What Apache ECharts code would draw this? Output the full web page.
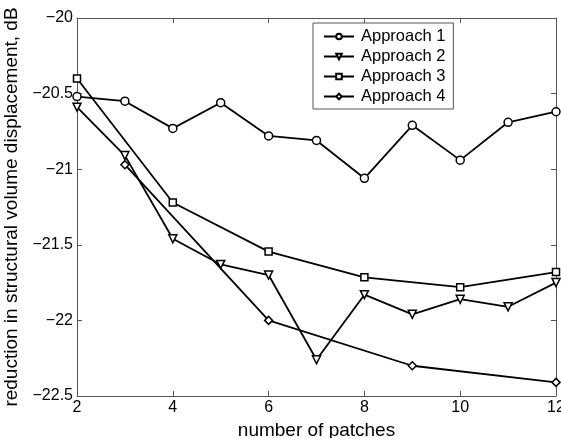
<!DOCTYPE html>
<html>
<head>
<meta charset="utf-8">
<script src="https://cdn.jsdelivr.net/npm/echarts@6/dist/echarts.min.js"></script>
<style>html,body{margin:0;padding:0;background:#fff}#c{width:561px;height:438px}</style>
</head>
<body>
<div id="c"></div>
<script>
var approach1X = [2, 3, 4, 5, 6, 7, 8, 9, 10, 11, 12];
var approach1Y = [-20.52, -20.55, -20.73, -20.56, -20.78, -20.81, -21.06, -20.71, -20.94, -20.69, -20.62];
var approach2X = [2, 3, 4, 5, 6, 7, 8, 9, 10, 11, 12];
var approach2Y = [-20.59, -20.91, -21.46, -21.63, -21.70, -22.26, -21.83, -21.96, -21.86, -21.91, -21.75];
var approach3X = [2, 4, 6, 8, 10, 12];
var approach3Y = [-20.40, -21.22, -21.545, -21.715, -21.78, -21.68];
var approach4X = [3, 6, 9, 12];
var approach4Y = [-20.97, -22.00, -22.30, -22.41];
var seriesNames = ['Approach 1', 'Approach 2', 'Approach 3', 'Approach 4'];
var xTitle = 'number of patches';
var yTitle = 'reduction in structural volume displacement, dB';

function pairs(xs, ys) { return xs.map(function (x, i) { return [x, ys[i]]; }); }
var FONT = 'Liberation Sans, Arial, Helvetica, sans-serif';
function mk(name, xs, ys, symbol, rot, size) {
  return {
    name: name, type: 'line', data: pairs(xs, ys),
    symbol: symbol, symbolSize: size, symbolRotate: rot || 0,
    showAllSymbol: true,
    lineStyle: { color: '#000', width: 1.8 },
    itemStyle: { color: '#fff', borderColor: '#000', borderWidth: 1.5 },
    emphasis: { disabled: true },
    animation: false
  };
}
var minusFmt = function (v) { return String(v).replace('-', '\u2212'); };
var chart = echarts.init(document.getElementById('c'));
chart.setOption({
  animation: false,
  grid: { left: 77, right: 5, top: 18, bottom: 42, containLabel: false, outerBoundsMode: 'none' },
  legend: {
    orient: 'vertical', left: 313, top: 23,
    padding: [5, 8, 4, 10], itemGap: 3, itemWidth: 30, itemHeight: 7,
    borderColor: '#555', borderWidth: 1, backgroundColor: '#fff',
    textStyle: { fontFamily: FONT, fontSize: 16.5, color: '#000', padding: [0, 0, 0, 2] },
    data: seriesNames
  },
  xAxis: [{
    type: 'value', min: 2, max: 12, interval: 2,
    name: xTitle, nameLocation: 'middle', nameGap: 16,
    nameTextStyle: { fontFamily: FONT, fontSize: 19, color: '#000' },
    axisLine: { lineStyle: { color: '#555', width: 1 } },
    axisTick: { inside: true, length: 5, lineStyle: { color: '#555' } },
    axisLabel: { fontFamily: FONT, fontSize: 16, color: '#000', margin: 4 },
    splitLine: { show: false }
  }, {
    type: 'value', min: 2, max: 12, interval: 2, position: 'top',
    axisLine: { show: true, lineStyle: { color: '#555', width: 1 } },
    axisTick: { inside: true, length: 5, lineStyle: { color: '#555' } },
    axisLabel: { show: false }, splitLine: { show: false }
  }],
  yAxis: [{
    type: 'value', min: -22.5, max: -20, interval: 0.5,
    name: yTitle, nameLocation: 'middle', nameGap: 48, nameRotate: 90,
    nameTextStyle: { fontFamily: FONT, fontSize: 19, color: '#000' },
    axisLine: { show: true, lineStyle: { color: '#555', width: 1 } },
    axisTick: { show: true, inside: true, length: 5, lineStyle: { color: '#555' } },
    axisLabel: { fontFamily: FONT, fontSize: 16, color: '#000', margin: 4, formatter: minusFmt },
    splitLine: { show: false }
  }, {
    type: 'value', min: -22.5, max: -20, interval: 0.5, position: 'right',
    axisLine: { show: true, lineStyle: { color: '#555', width: 1 } },
    axisTick: { show: true, inside: true, length: 5, lineStyle: { color: '#555' } },
    axisLabel: { show: false }, splitLine: { show: false }
  }],
  series: [
    mk(seriesNames[0], approach1X, approach1Y, 'circle', 0, 8),
    mk(seriesNames[1], approach2X, approach2Y, 'triangle', 180, 8),
    mk(seriesNames[2], approach3X, approach3Y, 'rect', 0, 7),
    mk(seriesNames[3], approach4X, approach4Y, 'diamond', 0, 8)
  ]
});
</script>
</body>
</html>
